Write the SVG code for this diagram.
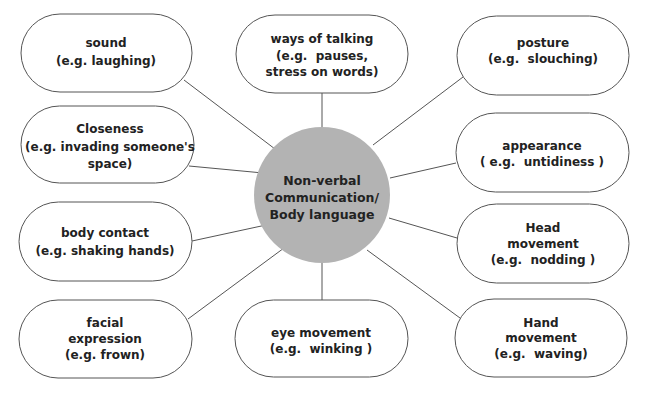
<svg xmlns="http://www.w3.org/2000/svg" width="654" height="400" viewBox="0 0 654 400">
<style>
.pill{fill:#fff;stroke:#555;stroke-width:1}
.t{font-family:"DejaVu Sans","Liberation Sans",sans-serif;font-weight:bold;font-size:12px;fill:#222;text-anchor:middle;white-space:pre}
.c{font-size:12.5px}
#connectors line{stroke:#555;stroke-width:1}
</style>
<rect width="654" height="400" fill="#fff"/>
<g id="connectors">
<line x1="322" y1="93" x2="322" y2="127"/>
<line x1="322" y1="263" x2="322" y2="300"/>
<line x1="184" y1="80" x2="275" y2="149"/>
<line x1="189" y1="166" x2="263" y2="173"/>
<line x1="463" y1="77" x2="373" y2="145"/>
<line x1="456" y1="163" x2="390" y2="178"/>
<line x1="192" y1="241" x2="266" y2="225"/>
<line x1="188" y1="319" x2="284" y2="248"/>
<line x1="457" y1="238" x2="389" y2="218"/>
<line x1="460" y1="318" x2="367" y2="250"/>
</g>
<g id="center">
<circle cx="322" cy="195" r="68" fill="#b3b3b3"/>
<text class="t c" x="322" y="185">Non-verbal</text>
<text class="t c" x="322" y="202">Communication/</text>
<text class="t c" x="322" y="219">Body language</text>
</g>
<g id="sound">
<rect class="pill" x="21" y="14" width="171" height="78" rx="39"/>
<text class="t" x="106" y="47">sound</text>
<text class="t" x="106" y="65">(e.g. laughing)</text>
</g>
<g id="closeness">
<rect class="pill" x="21" y="106" width="173" height="77" rx="38.5"/>
<text class="t" x="110" y="133">Closeness</text>
<text class="t" x="110" y="151">(e.g. invading someone's</text>
<text class="t" x="110" y="168">space)</text>
</g>
<g id="body-contact">
<rect class="pill" x="19" y="202" width="173" height="79" rx="39.5"/>
<text class="t" x="105" y="237">body contact</text>
<text class="t" x="105" y="255">(e.g. shaking hands)</text>
</g>
<g id="facial">
<rect class="pill" x="19" y="300" width="173" height="78" rx="39"/>
<text class="t" x="105" y="327">facial</text>
<text class="t" x="105" y="343">expression</text>
<text class="t" x="105" y="359">(e.g. frown)</text>
</g>
<g id="ways-of-talking">
<rect class="pill" x="236" y="15" width="172" height="78" rx="39"/>
<text class="t" x="322" y="43">ways of talking</text>
<text class="t" x="322" y="60">(e.g.  pauses,</text>
<text class="t" x="322" y="76">stress on words)</text>
</g>
<g id="eye-movement">
<rect class="pill" x="235" y="300" width="173" height="77" rx="38.5"/>
<text class="t" x="321" y="337">eye movement</text>
<text class="t" x="321" y="353">(e.g.  winking )</text>
</g>
<g id="posture">
<rect class="pill" x="457" y="16" width="172" height="79" rx="39.5"/>
<text class="t" x="543" y="47">posture</text>
<text class="t" x="543" y="63">(e.g.  slouching)</text>
</g>
<g id="appearance">
<rect class="pill" x="456" y="113" width="173" height="79" rx="39.5"/>
<text class="t" x="542" y="150">appearance</text>
<text class="t" x="542" y="166">( e.g.  untidiness )</text>
</g>
<g id="head-movement">
<rect class="pill" x="457" y="204" width="172" height="79" rx="39.5"/>
<text class="t" x="543" y="232">Head</text>
<text class="t" x="543" y="248">movement</text>
<text class="t" x="543" y="264">(e.g.  nodding )</text>
</g>
<g id="hand-movement">
<rect class="pill" x="455" y="299" width="172" height="78" rx="39"/>
<text class="t" x="541" y="327">Hand</text>
<text class="t" x="541" y="342">movement</text>
<text class="t" x="541" y="358">(e.g.  waving)</text>
</g>
</svg>
